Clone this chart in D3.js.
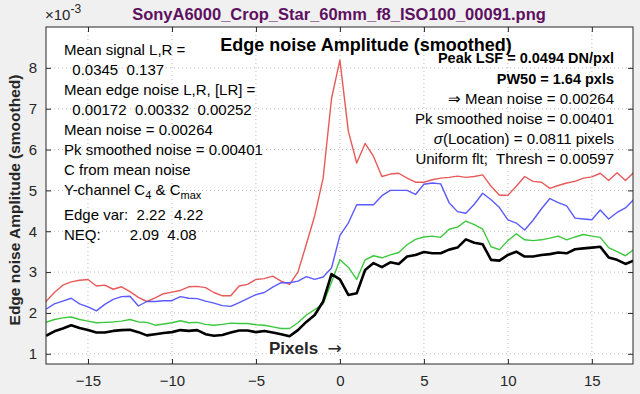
<!DOCTYPE html>
<meta charset="utf-8" />
<script src="https://d3js.org/d3.v7.min.js"></script>
<style>
  body { margin: 0; background: #f0f0f0; }
  svg text { font-family: "Liberation Sans", Arial, sans-serif; }
</style>
<div id="chart"></div>
<script>
  // sample positions (pixels)
  const xs = [-17.5, -17, -16.5, -16, -15.5, -15, -14.5, -14, -13.5, -13, -12.5, -12, -11.5, -11, -10.5, -10,
    -9.5, -9, -8.5, -8, -7.5, -7, -6.5, -6, -5.5, -5, -4.5, -4, -3.5, -3, -2.5, -2, -1.5, -1, -0.5, 0,
    0.5, 1, 1.5, 2, 2.5, 3, 3.5, 4, 4.5, 5, 5.5, 6, 6.5, 7, 7.5, 8, 8.5, 9, 9.5, 10,
    10.5, 11, 11.5, 12, 12.5, 13, 13.5, 14, 14.5, 15, 15.5, 16, 16.5, 17, 17.5];

  // noise amplitude, units of 1e-3
  const redVals = [2.28, 2.50, 2.68, 2.76, 2.80, 2.82, 2.66, 2.68, 2.58, 2.64, 2.52, 2.38, 2.28, 2.37, 2.47, 2.51,
    2.55, 2.64, 2.65, 2.62, 2.50, 2.42, 2.42, 2.66, 2.70, 2.82, 2.84, 2.90, 2.78, 2.70, 3.00, 3.68, 4.38, 5.30, 7.25, 8.19,
    6.45, 5.67, 6.15, 5.83, 5.34, 5.40, 5.42, 5.30, 5.20, 5.20, 5.26, 5.30, 5.32, 5.35, 5.32, 5.34, 5.38, 5.10, 4.88, 4.88,
    5.10, 5.34, 5.22, 5.20, 5.05, 5.12, 5.18, 5.22, 5.30, 5.33, 5.42, 5.24, 5.43, 5.24, 5.44];
  const blueVals = [2.09, 2.22, 2.29, 2.36, 2.22, 2.15, 2.05, 2.21, 2.33, 2.40, 2.41, 2.17, 2.28, 2.28, 2.30, 2.30,
    2.40, 2.36, 2.35, 2.29, 2.24, 2.18, 2.16, 2.25, 2.35, 2.45, 2.50, 2.63, 2.74, 2.74, 2.78, 2.89, 2.82, 2.88, 3.10, 3.90,
    4.20, 4.65, 4.65, 4.65, 4.87, 5.00, 5.00, 5.00, 4.90, 5.15, 5.18, 5.16, 4.70, 4.48, 4.44, 4.66, 4.93, 4.77, 4.58, 4.28,
    4.20, 4.03, 4.27, 4.55, 4.80, 4.70, 4.62, 4.32, 4.30, 4.28, 4.52, 4.30, 4.46, 4.57, 4.78];
  const greenVals = [1.77, 1.84, 1.88, 1.90, 1.84, 1.80, 1.76, 1.77, 1.78, 1.80, 1.84, 1.78, 1.77, 1.70, 1.73, 1.76,
    1.81, 1.76, 1.77, 1.72, 1.70, 1.72, 1.75, 1.74, 1.74, 1.71, 1.70, 1.66, 1.62, 1.62, 1.76, 1.95, 2.08, 2.22, 2.75, 3.30,
    3.12, 2.82, 3.30, 3.40, 3.35, 3.42, 3.48, 3.67, 3.80, 3.86, 3.88, 3.85, 4.05, 4.10, 4.25, 4.16, 4.05, 3.62, 3.55, 3.77,
    3.94, 3.79, 3.77, 3.79, 3.83, 3.88, 3.79, 3.86, 3.92, 3.88, 3.85, 3.60, 3.50, 3.40, 3.55];
  const blackVals = [1.44, 1.55, 1.62, 1.70, 1.63, 1.58, 1.52, 1.52, 1.56, 1.58, 1.59, 1.53, 1.45, 1.48, 1.51, 1.53,
    1.58, 1.56, 1.58, 1.48, 1.44, 1.46, 1.52, 1.57, 1.57, 1.53, 1.56, 1.52, 1.48, 1.43, 1.58, 1.78, 1.95, 2.28, 2.95, 2.82,
    2.44, 2.48, 3.05, 3.22, 3.12, 3.24, 3.20, 3.38, 3.42, 3.49, 3.46, 3.46, 3.55, 3.60, 3.80, 3.72, 3.68, 3.30, 3.28, 3.42,
    3.50, 3.38, 3.38, 3.42, 3.44, 3.48, 3.46, 3.56, 3.58, 3.60, 3.62, 3.36, 3.30, 3.20, 3.28];

  const xTicks = [-15, -10, -5, 0, 5, 10, 15];
  const yTicks = [1, 2, 3, 4, 5, 6, 7, 8];

  const leftNotes = [
    "Mean signal L,R =",
    "  0.0345  0.137",
    "Mean edge noise L,R, [LR] =",
    "  0.00172  0.00332  0.00252",
    "Mean noise = 0.00264",
    "Pk smoothed noise = 0.00401",
    "C from mean noise"
  ];
  const rightNotes = [
    "⇒ Mean noise = 0.00264",
    "Pk smoothed noise = 0.00401",
    "σ(Location) = 0.0811 pixels",
    "Uniform flt;  Thresh = 0.00597"
  ];

  const W = 640, H = 394;
  const margin = { top: 27, right: 7, bottom: 30, left: 46 };
  const width = W - margin.left - margin.right,
    height = H - margin.top - margin.bottom;
  const axisColor = "#262626";

  const svg = d3.select("#chart").append("svg")
    .attr("width", W).attr("height", H);

  svg.append("rect").attr("width", W).attr("height", H).attr("fill", "#f0f0f0");

  const g = svg.append("g")
    .attr("transform", `translate(${margin.left}, ${margin.top})`);

  const x = d3.scaleLinear().domain([-17.5, 17.45]).range([0, width]);
  const y = d3.scaleLinear().domain([0.75, 9]).range([height, 0]);

  g.append("rect").attr("width", width).attr("height", height).attr("fill", "white");

  // grid
  g.append("g").selectAll("line").data(xTicks).join("line")
    .attr("x1", d => x(d)).attr("x2", d => x(d))
    .attr("y1", 0).attr("y2", height)
    .attr("stroke", "#bdbdbd").attr("stroke-dasharray", "1,3");
  g.append("g").selectAll("line").data(yTicks).join("line")
    .attr("x1", 0).attr("x2", width)
    .attr("y1", d => y(d)).attr("y2", d => y(d))
    .attr("stroke", "#bdbdbd").attr("stroke-dasharray", "1,3");

  g.append("clipPath").attr("id", "clip")
    .append("rect").attr("width", width).attr("height", height);

  const line = d3.line()
    .x((d, i) => x(xs[i]))
    .y(d => y(d));

  const series = [
    { vals: redVals, color: "#e85a5a", w: 1.4 },
    { vals: blueVals, color: "#5a5aff", w: 1.4 },
    { vals: greenVals, color: "#3cc83c", w: 1.4 },
    { vals: blackVals, color: "#000000", w: 2.6 }
  ];
  g.append("g").attr("clip-path", "url(#clip)")
    .selectAll("path").data(series).join("path")
    .attr("d", d => line(d.vals))
    .attr("fill", "none")
    .attr("stroke", d => d.color)
    .attr("stroke-width", d => d.w)
    .attr("stroke-linejoin", "round");

  // axes
  const xAxis = g.append("g").attr("transform", `translate(0, ${height})`)
    .call(d3.axisBottom(x).tickValues(xTicks).tickSizeInner(-5).tickSizeOuter(0).tickPadding(14));
  const xTop = g.append("g")
    .call(d3.axisTop(x).tickValues(xTicks).tickSizeInner(-5).tickSizeOuter(0).tickFormat(""));
  const yAxis = g.append("g")
    .call(d3.axisLeft(y).tickValues(yTicks).tickSizeInner(-5).tickSizeOuter(0).tickPadding(9));
  const yRight = g.append("g").attr("transform", `translate(${width}, 0)`)
    .call(d3.axisRight(y).tickValues(yTicks).tickSizeInner(-5).tickSizeOuter(0).tickFormat(""));
  [xAxis, xTop, yAxis, yRight].forEach(a => {
    a.select(".domain").remove();
    a.selectAll("line").attr("stroke", axisColor);
    a.selectAll("text").attr("fill", axisColor).style("font-size", "15px");
  });
  xAxis.selectAll("text").attr("dy", "0.5em");

  g.append("rect").attr("width", width).attr("height", height)
    .attr("fill", "none").attr("stroke", axisColor).attr("stroke-width", 1);

  // exponent label
  const ex = svg.append("text").attr("x", 45).attr("y", 20)
    .attr("fill", axisColor).style("font-size", "15px");
  ex.append("tspan").text("×10");
  ex.append("tspan").attr("dy", -7).style("font-size", "12px").text("-3");

  // figure title
  svg.append("text").attr("x", 339).attr("y", 20)
    .attr("text-anchor", "middle")
    .attr("fill", "#5e1060")
    .style("font-size", "16.5px").style("font-weight", "bold")
    .text("SonyA6000_Crop_Star_60mm_f8_ISO100_00091.png");

  // y label
  svg.append("text")
    .attr("transform", "translate(20, 200) rotate(-90)")
    .attr("text-anchor", "middle")
    .attr("fill", axisColor)
    .style("font-size", "15.5px").style("font-weight", "bold")
    .text("Edge noise Amplitude (smoothed)");

  // inner title
  svg.append("text").attr("x", 366).attr("y", 51)
    .attr("text-anchor", "middle").attr("fill", "black")
    .style("font-size", "18px").style("font-weight", "bold")
    .text("Edge noise Amplitude (smoothed)");

  // x label
  const xl = svg.append("text").attr("x", 269).attr("y", 354)
    .attr("fill", axisColor)
    .style("font-size", "17px").style("font-weight", "bold")
    .attr("xml:space", "preserve");
  xl.append("tspan").text("Pixels  ");
  xl.append("tspan")
    .style("font-family", "'DejaVu Sans', sans-serif")
    .style("font-weight", "normal").style("font-size", "17px").text("→");

  // left notes
  const lt = svg.append("g").attr("fill", "black").style("font-size", "15px");
  lt.selectAll("text").data(leftNotes).join("text")
    .attr("x", 64).attr("y", (d, i) => 55 + i * 20)
    .attr("xml:space", "preserve")
    .text(d => d);
  const yc = lt.append("text").attr("x", 64).attr("y", 195);
  yc.append("tspan").text("Y-channel C");
  yc.append("tspan").attr("dy", 4).style("font-size", "11px").text("4");
  yc.append("tspan").attr("dy", -4).text(" & C");
  yc.append("tspan").attr("dy", 4).style("font-size", "11px").text("max");
  lt.append("text").attr("x", 64).attr("y", 220).attr("xml:space", "preserve")
    .text("Edge var:  2.22  4.22");
  lt.append("text").attr("x", 64).attr("y", 240).attr("xml:space", "preserve")
    .text("NEQ:       2.09  4.08");

  // right notes
  const rt = svg.append("g").attr("fill", "black").attr("text-anchor", "end");
  rt.append("text").attr("x", 614).attr("y", 63)
    .style("font-size", "14.5px").style("font-weight", "bold")
    .text("Peak LSF = 0.0494 DN/pxl");
  rt.append("text").attr("x", 614).attr("y", 84)
    .style("font-size", "14.5px").style("font-weight", "bold")
    .text("PW50 = 1.64 pxls");
  rt.selectAll(".rn").data(rightNotes).join("text")
    .attr("class", "rn")
    .attr("x", 614).attr("y", (d, i) => 104 + i * 20)
    .attr("xml:space", "preserve")
    .style("font-size", "15px")
    .each(function (d) {
      const t = d3.select(this);
      if (d[0] === "σ") {
        t.append("tspan").style("font-style", "italic").text("σ");
        t.append("tspan").text(d.slice(1));
      } else {
        t.text(d);
      }
    });
</script>
